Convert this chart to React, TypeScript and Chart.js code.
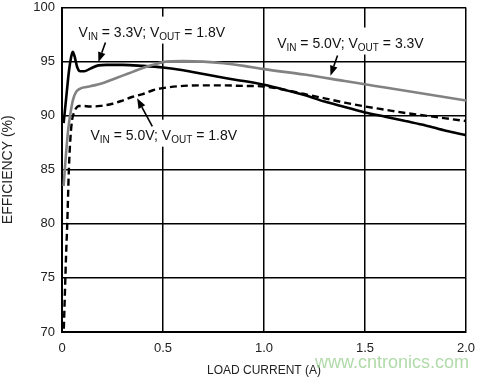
import React, { useEffect, useRef } from "react";
import { Chart, registerables } from "chart.js";

Chart.register(...registerables);

// ---- data ----
const xTickLabels = ["0", "0.5", "1.0", "1.5", "2.0"];

const vin33out18X = [0.008, 0.02, 0.035, 0.045, 0.053, 0.062, 0.075, 0.09, 0.11, 0.14, 0.18, 0.22, 0.3, 0.4, 0.5, 0.6, 0.7, 0.8, 0.9, 1.0, 1.1, 1.2, 1.3, 1.4, 1.5, 1.6, 1.7, 1.8, 1.9, 2.0];
const vin33out18Y = [89.3, 91.5, 94.2, 95.4, 95.9, 95.5, 94.5, 94.1, 94.1, 94.35, 94.65, 94.7, 94.7, 94.6, 94.45, 94.2, 93.85, 93.5, 93.2, 92.85, 92.4, 91.9, 91.3, 90.8, 90.3, 89.9, 89.5, 89.1, 88.6, 88.2];

const vin50out33X = [0.008, 0.02, 0.03, 0.04, 0.055, 0.07, 0.09, 0.12, 0.16, 0.2, 0.25, 0.3, 0.35, 0.4, 0.45, 0.5, 0.6, 0.7, 0.8, 0.9, 1.0, 1.2, 1.4, 1.5, 1.6, 1.8, 2.0];
const vin50out33Y = [83.5, 86.5, 88.6, 90.0, 91.5, 92.2, 92.5, 92.65, 92.8, 93.0, 93.35, 93.7, 94.05, 94.4, 94.7, 94.95, 95.05, 95.0, 94.85, 94.6, 94.3, 93.8, 93.2, 92.9, 92.6, 92.0, 91.4];

const vin50out18X = [0.009, 0.015, 0.02, 0.026, 0.034, 0.042, 0.05, 0.06, 0.07, 0.082, 0.1, 0.14, 0.19, 0.25, 0.3, 0.35, 0.4, 0.45, 0.5, 0.6, 0.7, 0.8, 0.9, 1.0, 1.1, 1.2, 1.3, 1.4, 1.5, 1.6, 1.7, 1.8, 1.9, 2.0];
const vin50out18Y = [70.3, 74, 77, 80, 85, 88, 89.6, 90.3, 90.7, 90.9, 90.9, 90.85, 90.9, 91.1, 91.4, 91.75, 92.0, 92.35, 92.55, 92.75, 92.8, 92.8, 92.75, 92.7, 92.4, 92.0, 91.6, 91.2, 90.85, 90.55, 90.25, 90.0, 89.75, 89.5];

// annotation texts: [main, sub, main, sub, main]
const label1Parts = ["V", "IN", " = 3.3V; V", "OUT", " = 1.8V"];
const label2Parts = ["V", "IN", " = 5.0V; V", "OUT", " = 1.8V"];
const label3Parts = ["V", "IN", " = 5.0V; V", "OUT", " = 3.3V"];

// label anchors (data units) and arrows (tail -> tip, data units)
const labelAnchors = [
  { parts: label1Parts, x: 0.082, y: 97.31 },
  { parts: label2Parts, x: 0.141, y: 87.78 },
  { parts: label3Parts, x: 1.065, y: 96.3 },
];
const arrows = [
  { x1: 0.215, y1: 96.76, x2: 0.18, y2: 94.95 },
  { x1: 0.447, y1: 89.0, x2: 0.372, y2: 91.6 },
  { x1: 1.364, y1: 95.56, x2: 1.329, y2: 93.7 },
];

const watermark = "www.cntronics.com";

const toPts = (xs: number[], ys: number[]) => xs.map((x, i) => ({ x, y: ys[i] }));

const FONT = "'Liberation Sans', Arial, sans-serif";

function measureParts(ctx: CanvasRenderingContext2D, parts: string[]) {
  let w = 0;
  parts.forEach((p, i) => {
    ctx.font = `${i % 2 === 1 ? 10 : 14}px ${FONT}`;
    w += ctx.measureText(p).width;
  });
  return w;
}

const annotationPlugin = {
  id: "annotations",
  beforeDatasetsDraw(chart: any) {
    const { ctx, scales } = chart;
    ctx.save();
    ctx.fillStyle = "#fff";
    labelAnchors.forEach((l) => {
      const px = scales.x.getPixelForValue(l.x);
      const py = scales.y.getPixelForValue(l.y);
      const w = measureParts(ctx, l.parts);
      ctx.fillRect(px - 3, py - 20, w + 6, 27);
    });
    ctx.restore();
  },
  afterDatasetsDraw(chart: any) {
    const { ctx, scales } = chart;
    ctx.save();
    ctx.fillStyle = "#111";
    ctx.textBaseline = "alphabetic";
    ctx.textAlign = "left";
    labelAnchors.forEach((l) => {
      let px = scales.x.getPixelForValue(l.x);
      const py = scales.y.getPixelForValue(l.y);
      l.parts.forEach((p, i) => {
        const sub = i % 2 === 1;
        ctx.font = `${sub ? 10 : 14}px ${FONT}`;
        ctx.fillText(p, px, sub ? py + 3 : py);
        px += ctx.measureText(p).width;
      });
    });
    ctx.strokeStyle = "#000";
    ctx.fillStyle = "#000";
    ctx.lineWidth = 1.6;
    arrows.forEach((a) => {
      const x1 = scales.x.getPixelForValue(a.x1);
      const y1 = scales.y.getPixelForValue(a.y1);
      const x2 = scales.x.getPixelForValue(a.x2);
      const y2 = scales.y.getPixelForValue(a.y2);
      const ang = Math.atan2(y2 - y1, x2 - x1);
      const len = 10;
      const hw = 3.8;
      const bx = x2 - Math.cos(ang) * len;
      const by = y2 - Math.sin(ang) * len;
      ctx.beginPath();
      ctx.moveTo(x1, y1);
      ctx.lineTo(bx, by);
      ctx.stroke();
      ctx.beginPath();
      ctx.moveTo(x2, y2);
      ctx.lineTo(bx + Math.sin(ang) * hw, by - Math.cos(ang) * hw);
      ctx.lineTo(bx - Math.sin(ang) * hw, by + Math.cos(ang) * hw);
      ctx.closePath();
      ctx.fill();
    });
    ctx.restore();
  },
  afterDraw(chart: any) {
    const { ctx } = chart;
    ctx.save();
    ctx.font = `18px ${FONT}`;
    ctx.fillStyle = "rgba(150, 205, 140, 0.75)";
    ctx.textAlign = "left";
    ctx.textBaseline = "alphabetic";
    ctx.fillText(watermark, 315, 368);
    ctx.restore();
  },
};

export default function App() {
  const ref = useRef<HTMLCanvasElement>(null);
  useEffect(() => {
    document.body.style.margin = "0";
    const canvas = ref.current!;
    const chart = new Chart(canvas, {
      type: "line",
      data: {
        datasets: [
          {
            data: toPts(vin50out33X, vin50out33Y),
            borderColor: "#828282",
            borderWidth: 2.6,
            cubicInterpolationMode: "monotone",
          },
          {
            data: toPts(vin50out18X, vin50out18Y),
            borderColor: "#000",
            borderWidth: 2.4,
            borderDash: [7, 4],
            cubicInterpolationMode: "monotone",
          },
          {
            data: toPts(vin33out18X, vin33out18Y),
            borderColor: "#000",
            borderWidth: 2.6,
            cubicInterpolationMode: "monotone",
          },
        ],
      },
      options: {
        animation: false,
        responsive: false,
        events: [],
        layout: { padding: { top: 0, right: 34, left: 0, bottom: 0 } },
        elements: { point: { radius: 0 } },
        plugins: { legend: { display: false }, tooltip: { enabled: false } },
        scales: {
          x: {
            type: "linear",
            min: 0,
            max: 2,
            afterFit: (s: any) => {
              s.height = 47;
              s.paddingTop = 0;
              s.paddingBottom = 0;
            },
            ticks: {
              stepSize: 0.5,
              padding: 9,
              color: "#222",
              font: { family: FONT, size: 13 },
              callback: (v: any, i: number) => xTickLabels[i] ?? String(v),
            },
            grid: { color: "#000", lineWidth: 1.5, drawTicks: false },
            border: { color: "#000", width: 2 },
            title: {
              display: true,
              text: "LOAD CURRENT (A)",
              color: "#222",
              font: { family: FONT, size: 12 },
              padding: { top: 0, bottom: 1 },
            },
          },
          y: {
            min: 70,
            max: 100,
            afterFit: (s: any) => {
              s.width = 62;
              s.paddingTop = 7.5;
              s.paddingBottom = 0;
            },
            ticks: {
              stepSize: 5,
              padding: 7,
              color: "#222",
              font: { family: FONT, size: 13 },
            },
            grid: { color: "#000", lineWidth: 1.5, drawTicks: false },
            border: { color: "#000", width: 2 },
            title: {
              display: true,
              text: "EFFICIENCY (%)",
              color: "#222",
              font: { family: FONT, size: 14 },
              padding: { top: 0, bottom: 0 },
            },
          },
        },
      },
      plugins: [annotationPlugin],
    });
    return () => chart.destroy();
  }, []);
  return (
    <canvas
      ref={ref}
      width={500}
      height={379}
      style={{ display: "block", width: 500, height: 379 }}
    />
  );
}
